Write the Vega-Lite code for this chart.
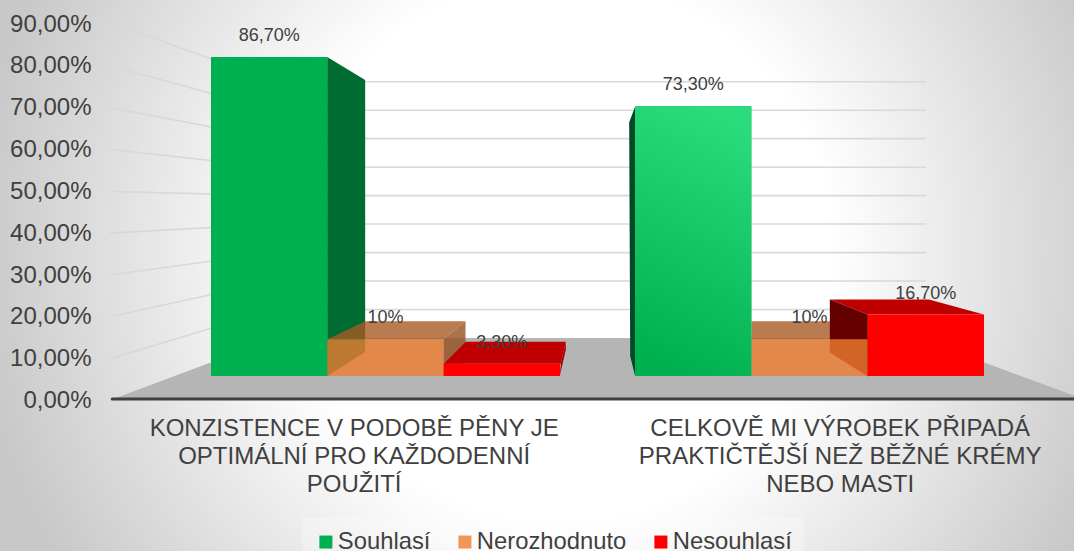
{
"$schema":"https://vega.github.io/schema/vega-lite/v6.json",
"width":1074,"height":551,"autosize":"none","padding":0,"background":"#ffffff",
"view":{"stroke":null},
"config":{"font":"Liberation Sans","text":{"font":"Liberation Sans"}},
"resolve":{"scale":{"y":"independent"},"axis":{"x":"independent"}},
"layer":[
{"data":{"values":[{"tick":50}]},
 "mark":{"type":"point","filled":true,"size":4,"opacity":1,"stroke":null,"shape":"M-525.5,-640L874.5,-640L874.5,760L-525.5,760Z","fill":{"gradient":"radial","x1":0.5,"y1":0.5,"x2":0.5,"y2":0.5,"r1":0,"r2":0.42,"stops":[{"offset":0,"color":"#ffffff"},{"offset":0.46,"color":"#ffffff"},{"offset":1,"color":"#c8c8c8"}]}},
 "encoding":{
  "x":{"datum":"KONZISTENCE V PODOBĚ PĚNY JE OPTIMÁLNÍ PRO KAŽDODENNÍ POUŽITÍ","type":"nominal","axis":null,"scale":{"type":"band","domain":["KONZISTENCE V PODOBĚ PĚNY JE OPTIMÁLNÍ PRO KAŽDODENNÍ POUŽITÍ","CELKOVĚ MI VÝROBEK PŘIPADÁ PRAKTIČTĚJŠÍ NEŽ BĚŽNÉ KRÉMY NEBO MASTI"],"range":[211,984],"paddingInner":0.177,"paddingOuter":0}},
  "y":{"field":"tick","type":"quantitative","axis":null,"scale":{"domain":[0,90],"range":[400,22],"nice":false,"zero":false}}
 }},
{"data":{"values":[{"tick":10},{"tick":20},{"tick":30},{"tick":40},{"tick":50},{"tick":60},{"tick":70},{"tick":80},{"tick":90}]},
 "mark":{"type":"point","filled":false,"size":4,"stroke":"#d8d8d8","strokeWidth":1.6,"opacity":1},
 "encoding":{
  "x":{"datum":"KONZISTENCE V PODOBĚ PĚNY JE OPTIMÁLNÍ PRO KAŽDODENNÍ POUŽITÍ","type":"nominal","axis":null,"scale":{"type":"band","domain":["KONZISTENCE V PODOBĚ PĚNY JE OPTIMÁLNÍ PRO KAŽDODENNÍ POUŽITÍ","CELKOVĚ MI VÝROBEK PŘIPADÁ PRAKTIČTĚJŠÍ NEŽ BĚŽNÉ KRÉMY NEBO MASTI"],"range":[211,984],"paddingInner":0.177,"paddingOuter":0}},
  "y":{"field":"tick","type":"quantitative","scale":{"domain":[0,90],"range":[400.5,24],"nice":false,"zero":false},
   "axis":{"orient":"left","offset":-91,"zindex":1,"values":[0,10,20,30,40,50,60,70,80,90],"domain":false,"ticks":false,"grid":false,"title":null,"labelPadding":0,"labelFontSize":24,"labelColor":"#404040","labelFont":"Liberation Sans","labelOverlap":false,"labelBound":false,"labelExpr":"replace(format(datum.value,'.2f'),'.',',')+'%'"}},
  "shape":{"field":"tick","type":"nominal","legend":null,"scale":{"domain":[10,20,30,40,50,60,70,80,90],"range":[
   "M-275.5,0L-112.5,-49.1L540.5,-49.1","M-275.5,0L-112.5,-35.8L540.5,-35.8","M-275.5,0L-112.5,-22.4L540.5,-22.4","M-275.5,0L-112.5,-9.1L540.5,-9.1","M-275.5,0L-112.5,4.3L540.5,4.3","M-275.5,0L-112.5,17.7L540.5,17.7","M-275.5,0L-112.5,31L540.5,31","M-275.5,0L-112.5,44.4L540.5,44.4","M-275.5,-2L-112.5,57.7L540.5,57.7"]}}
 }},
{"data":{"values":[
 {"question":"KONZISTENCE V PODOBĚ PĚNY JE OPTIMÁLNÍ PRO KAŽDODENNÍ POUŽITÍ","answer":"Souhlasí","value":86.7,"label":"86,70%"},
 {"question":"KONZISTENCE V PODOBĚ PĚNY JE OPTIMÁLNÍ PRO KAŽDODENNÍ POUŽITÍ","answer":"Nerozhodnuto","value":10,"label":"10%"},
 {"question":"KONZISTENCE V PODOBĚ PĚNY JE OPTIMÁLNÍ PRO KAŽDODENNÍ POUŽITÍ","answer":"Nesouhlasí","value":3.3,"label":"3,30%"},
 {"question":"CELKOVĚ MI VÝROBEK PŘIPADÁ PRAKTIČTĚJŠÍ NEŽ BĚŽNÉ KRÉMY NEBO MASTI","answer":"Souhlasí","value":73.3,"label":"73,30%"},
 {"question":"CELKOVĚ MI VÝROBEK PŘIPADÁ PRAKTIČTĚJŠÍ NEŽ BĚŽNÉ KRÉMY NEBO MASTI","answer":"Nerozhodnuto","value":10,"label":"10%"},
 {"question":"CELKOVĚ MI VÝROBEK PŘIPADÁ PRAKTIČTĚJŠÍ NEŽ BĚŽNÉ KRÉMY NEBO MASTI","answer":"Nesouhlasí","value":16.7,"label":"16,70%"}
 ]},
 "encoding":{
  "x":{"field":"question","type":"nominal","title":null,"axis":null,"scale":{"type":"band","domain":["KONZISTENCE V PODOBĚ PĚNY JE OPTIMÁLNÍ PRO KAŽDODENNÍ POUŽITÍ","CELKOVĚ MI VÝROBEK PŘIPADÁ PRAKTIČTĚJŠÍ NEŽ BĚŽNÉ KRÉMY NEBO MASTI"],"range":[211,984],"paddingInner":0.177,"paddingOuter":0}},
  "xOffset":{"field":"answer","type":"nominal","scale":{"domain":["Souhlasí","Nerozhodnuto","Nesouhlasí"]}},
  "y":{"field":"value","type":"quantitative","axis":null,"scale":{"domain":[-6.52,96.2],"range":[400,22],"nice":false,"zero":false}}
 },
 "layer":[
 {"transform":[{"filter":"datum.value==86.7"}],
  "mark":{"type":"point","filled":true,"size":4,"fill":"#b5b5b5","opacity":1,"stroke":null,"shape":"M-156,23L7,-38L649,-38L814,23Z"},
  "encoding":{"y":{"datum":0}}},
 {"transform":[{"filter":"datum.value==86.7"}],
  "mark":{"type":"point","filled":false,"size":4,"stroke":"#404040","strokeWidth":3,"opacity":1,"strokeCap":"round","shape":"M-157,23L820,23"},
  "encoding":{"y":{"datum":0}}},
 {"transform":[{"filter":"datum.value==86.7"}],"mark":{"type":"text","fontSize":24,"fill":"#404040","dx":85,"dy":15,"lineHeight":28,"align":"center","baseline":"line-top"},
  "encoding":{"y":{"datum":-6.52},"text":{"value":["KONZISTENCE V PODOBĚ PĚNY JE","OPTIMÁLNÍ PRO KAŽDODENNÍ","POUŽITÍ"]}}},
 {"transform":[{"filter":"datum.value==73.3"}],"mark":{"type":"text","fontSize":24,"fill":"#404040","dx":147,"dy":15,"lineHeight":28,"align":"center","baseline":"line-top"},
  "encoding":{"y":{"datum":-6.52},"text":{"value":["CELKOVĚ MI VÝROBEK PŘIPADÁ","PRAKTIČTĚJŠÍ NEŽ BĚŽNÉ KRÉMY","NEBO MASTI"]}}},
 {"transform":[{"filter":"datum.value==86.7"}],"mark":{"type":"point","filled":true,"size":4,"fill":"#006c32","opacity":1,"stroke":null,"shape":"M58,0L96,23L96,295L58,319Z"}},
 {"transform":[{"filter":"datum.value==73.3"}],"mark":{"type":"point","filled":true,"size":4,"fill":"#004a26","opacity":1,"stroke":null,"shape":"M-58,0L-64,16L-63,250L-58,270Z"}},
 {"transform":[{"filter":"datum.value==10&&indexof(datum.question,'KONZ')==0"}],"mark":{"type":"point","filled":true,"size":4,"fill":"#a85a24","opacity":0.8,"stroke":null,"shape":"M-58,0L-20,-18L80,-18L58,0Z"}},
 {"transform":[{"filter":"datum.value==10&&indexof(datum.question,'KONZ')==0"}],"mark":{"type":"point","filled":true,"size":4,"fill":"#955022","opacity":0.8,"stroke":null,"shape":"M58,0L80,-18L80,22L58,37Z"}},
 {"transform":[{"filter":"datum.value==10&&indexof(datum.question,'CELK')==0"}],"mark":{"type":"point","filled":true,"size":4,"fill":"#a85a24","opacity":0.8,"stroke":null,"shape":"M-58,0L-58,-18L30,-18L58,0Z"}},
 {"transform":[{"filter":"datum.value==16.7"}],"mark":{"type":"text","fontSize":18,"fill":"#404040","dy":-21,"align":"center","baseline":"middle"},"encoding":{"text":{"field":"label"}}},
 {"transform":[{"filter":"datum.value==3.3"}],"mark":{"type":"point","filled":true,"size":4,"fill":"#c00000","opacity":1,"stroke":null,"shape":"M-58,0L-36,-22L64,-22L59,0Z"}},
 {"transform":[{"filter":"datum.value==3.3"}],"mark":{"type":"point","filled":true,"size":4,"fill":"#a00000","opacity":1,"stroke":null,"shape":"M59,0L64,-22L64,-14L58,12Z"}},
 {"transform":[{"filter":"datum.value==16.7"}],"mark":{"type":"point","filled":true,"size":4,"fill":"#c00000","opacity":1,"stroke":null,"shape":"M-58,0L-96,-15L3,-15L58,0Z"}},
 {"transform":[{"filter":"datum.value==16.7"}],"mark":{"type":"point","filled":true,"size":4,"fill":"#640000","opacity":1,"stroke":null,"shape":"M-58,0L-96,-15L-96,38L-58,62Z"}},
 {"mark":{"type":"bar"},
  "encoding":{"y2":{"datum":0},
   "color":{"field":"answer","type":"nominal","scale":{"domain":["Souhlasí","Nerozhodnuto","Nesouhlasí"],"range":["#00b050","#ed7d31","#ff0000"]},
    "legend":{"title":null,"orient":"none","legendX":302,"legendY":518,"direction":"horizontal","symbolType":"square","symbolSize":169,"symbolStrokeWidth":0,"labelFontSize":23.8,"labelColor":"#404040","labelFont":"Liberation Sans","labelOffset":0,"labelLimit":0,"columnPadding":22,"padding":12,"fillColor":"#ffffff40"}},
   "opacity":{"field":"answer","type":"nominal","scale":{"type":"ordinal","domain":["Souhlasí","Nerozhodnuto","Nesouhlasí"],"range":[1,0.8,1]}}}},
 {"transform":[{"filter":"datum.value==73.3"}],
  "mark":{"type":"bar","opacity":1,"fill":{"gradient":"linear","x1":0.6,"y1":0,"x2":0.4,"y2":1,"stops":[{"offset":0,"color":"#2bdc7c"},{"offset":1,"color":"#00b050"}]}},
  "encoding":{"y2":{"datum":0}}},
 {"transform":[{"filter":"datum.value!=16.7"}],"mark":{"type":"text","fontSize":18,"fill":"#404040","dy":-21,"align":"center","baseline":"middle"},"encoding":{"text":{"field":"label"}}}
 ]}
]
}
